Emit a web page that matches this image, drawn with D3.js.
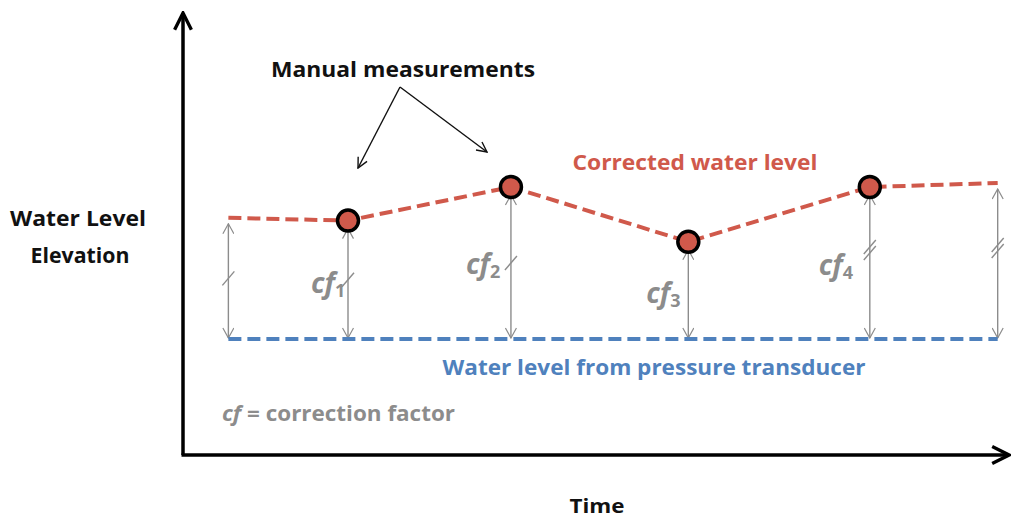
<!DOCTYPE html>
<html>
<head>
<meta charset="utf-8">
<script src="https://cdn.jsdelivr.net/npm/d3@7"></script>
<style>
  body { margin: 0; background: #fff; }
  svg { display: block; font-family: "Open Sans", Lato, sans-serif; }
</style>
</head>
<body>
<svg id="chart" width="1013" height="521"></svg>
<script>
// values (arbitrary time / elevation units)
const measTimes = [4.0, 7.95, 12.25, 16.65];
const measLevels = [5.86, 6.7, 5.33, 6.7];
const startTime = 1.1, startLevel = 5.93;
const endTime = 19.75, endLevel = 6.8;
const transducerLevel = 2.9;
const cfLabels = ["1", "2", "3", "4"];
const breakCounts = [1, 1, 0, 2];   // slashes on each cf arrow
const edgeBreaks = [1, 2];          // slashes on start / end arrows

const svg = d3.select('#chart');
const x = d3.scaleLinear().domain([0, 20]).range([183, 1008]);
const y = d3.scaleLinear().domain([0, 10]).range([455, 55]);

const red = '#d0594b', blue = '#4f81bd', grey = '#8c8c8c';

// markers
const defs = svg.append('defs');
defs.append('marker').attr('id', 'axisHead')
  .attr('viewBox', '0 0 10 10').attr('refX', 9).attr('refY', 5)
  .attr('markerWidth', 6).attr('markerHeight', 6).attr('orient', 'auto-start-reverse')
  .attr('markerUnits', 'strokeWidth')
  .append('path').attr('d', 'M1,1 L9,5 L1,9').attr('fill', 'none')
  .attr('stroke', '#000').attr('stroke-width', 1.6);
defs.append('marker').attr('id', 'greyHead')
  .attr('viewBox', '0 0 12 12').attr('refX', 11).attr('refY', 6)
  .attr('markerWidth', 12).attr('markerHeight', 12).attr('orient', 'auto-start-reverse')
  .attr('markerUnits', 'userSpaceOnUse')
  .append('path').attr('d', 'M1,0.5 L11,6 L1,11.5').attr('fill', 'none')
  .attr('stroke', grey).attr('stroke-width', 1.2);
defs.append('marker').attr('id', 'blackHead')
  .attr('viewBox', '0 0 12 12').attr('refX', 11).attr('refY', 6)
  .attr('markerWidth', 12).attr('markerHeight', 12).attr('orient', 'auto')
  .attr('markerUnits', 'userSpaceOnUse')
  .append('path').attr('d', 'M1,1 L11,6 L1,11').attr('fill', 'none')
  .attr('stroke', '#111').attr('stroke-width', 1.4);

// axes
svg.append('line').attr('x1', x(0)).attr('y1', y(0)).attr('x2', x(0)).attr('y2', 13)
  .attr('stroke', '#000').attr('stroke-width', 3.5).attr('marker-end', 'url(#axisHead)');
svg.append('line').attr('x1', x(0) - 1.5).attr('y1', y(0)).attr('x2', 1009).attr('y2', y(0))
  .attr('stroke', '#000').attr('stroke-width', 3.5).attr('marker-end', 'url(#axisHead)');

// vertical double arrows (cf)
const arrowTimes = [startTime, ...measTimes, endTime];
const arrowTops = [startLevel, ...measLevels, endLevel];
const arrows = arrowTimes.map((t, i) => ({
  t, top: arrowTops[i],
  breaks: i === 0 ? edgeBreaks[0] : i === arrowTimes.length - 1 ? edgeBreaks[1] : breakCounts[i - 1],
  gap: (i === 0 || i === arrowTimes.length - 1) ? 6 : 8
}));
svg.selectAll('line.cf').data(arrows).join('line').attr('class', 'cf')
  .attr('x1', d => x(d.t)).attr('x2', d => x(d.t))
  .attr('y1', d => y(d.top) + d.gap).attr('y2', y(transducerLevel) - 1)
  .attr('stroke', grey).attr('stroke-width', 1.4)
  .attr('marker-start', 'url(#greyHead)').attr('marker-end', 'url(#greyHead)');

// break slashes
const slashes = [];
arrows.forEach(d => {
  const mid = (y(d.top) + y(transducerLevel)) / 2 + (d.breaks === 2 ? -13 : 0);
  for (let k = 0; k < d.breaks; k++) slashes.push({ cx: x(d.t), cy: mid + (k - (d.breaks - 1) / 2) * 6 });
});
svg.selectAll('line.brk').data(slashes).join('line').attr('class', 'brk')
  .attr('x1', d => d.cx - 6).attr('y1', d => d.cy + 7)
  .attr('x2', d => d.cx + 6).attr('y2', d => d.cy - 7)
  .attr('stroke', grey).attr('stroke-width', 1.4);

// transducer level
svg.append('line')
  .attr('x1', x(startTime)).attr('x2', x(endTime))
  .attr('y1', y(transducerLevel)).attr('y2', y(transducerLevel))
  .attr('stroke', blue).attr('stroke-width', 4).attr('stroke-dasharray', '13,6');

// corrected water level
const corrected = [[startTime, startLevel], ...measTimes.map((t, i) => [t, measLevels[i]]), [endTime, endLevel]];
svg.append('path').datum(corrected)
  .attr('d', d3.line().x(d => x(d[0])).y(d => y(d[1])))
  .attr('fill', 'none').attr('stroke', red).attr('stroke-width', 4).attr('stroke-dasharray', '13,6');

// manual measurements
svg.selectAll('circle.meas').data(measTimes).join('circle').attr('class', 'meas')
  .attr('cx', d => x(d)).attr('cy', (d, i) => y(measLevels[i]))
  .attr('r', 10.5).attr('fill', red).attr('stroke', '#000').attr('stroke-width', 3.5);

// cf labels
const cfOffsets = [[-37, 72], [-45, 87], [-42, 61], [-51, 88]];
const cfText = svg.selectAll('text.cf').data(cfLabels).join('text').attr('class', 'cf')
  .attr('x', (d, i) => x(measTimes[i]) + cfOffsets[i][0])
  .attr('y', (d, i) => y(measLevels[i]) + cfOffsets[i][1])
  .attr('fill', grey).attr('font-size', 28).attr('font-weight', 700);
cfText.append('tspan').attr('font-style', 'italic').text('cf');
cfText.append('tspan').attr('font-size', 18).attr('dy', 4).text(d => d);

// callout arrows
const calloutFrom = [400, 87];
const calloutTo = [[358, 168], [487, 152]];
svg.selectAll('line.callout').data(calloutTo).join('line').attr('class', 'callout')
  .attr('x1', calloutFrom[0]).attr('y1', calloutFrom[1])
  .attr('x2', d => d[0]).attr('y2', d => d[1])
  .attr('stroke', '#111').attr('stroke-width', 1.4).attr('marker-end', 'url(#blackHead)');

// text labels (widths pinned to the reference)
const texts = [
  { s: 'Manual measurements', x: 403, y: 77, c: '#111', size: 22, w: 264 },
  { s: 'Corrected water level', x: 695, y: 170, c: red, size: 22, w: 245 },
  { s: 'Water level from pressure transducer', x: 654, y: 375, c: blue, size: 22, w: 423 },
  { s: 'Water Level', x: 78, y: 226, c: '#111', size: 21, w: 136 },
  { s: 'Elevation', x: 80, y: 263, c: '#111', size: 21, w: 99 },
  { s: 'Time', x: 597, y: 513, c: '#111', size: 20, w: 55 }
];
svg.selectAll('text.lbl').data(texts).join('text').attr('class', 'lbl')
  .attr('x', d => d.x).attr('y', d => d.y).attr('text-anchor', 'middle')
  .attr('fill', d => d.c).attr('font-size', d => d.size).attr('font-weight', 700)
  .attr('textLength', d => d.w).attr('lengthAdjust', 'spacingAndGlyphs')
  .text(d => d.s);

const note = svg.append('text').attr('x', 222).attr('y', 421)
  .attr('fill', grey).attr('font-size', 22).attr('font-weight', 700)
  .attr('textLength', 233).attr('lengthAdjust', 'spacingAndGlyphs');
note.append('tspan').attr('font-style', 'italic').text('cf');
note.append('tspan').text(' = correction factor');
</script>
</body>
</html>
